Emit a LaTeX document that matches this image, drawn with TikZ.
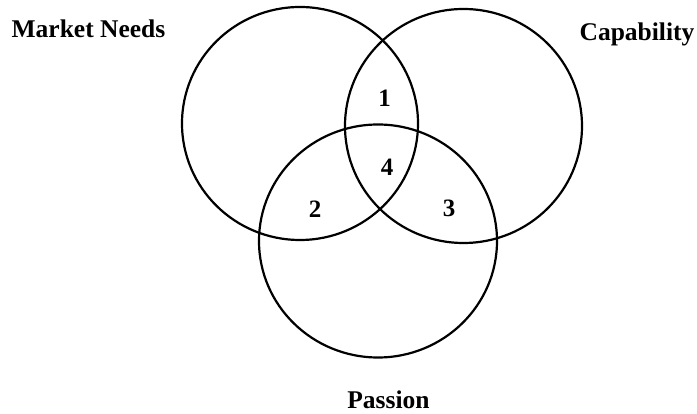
\documentclass[tikz,border=0pt]{standalone}
\usepackage{fontspec}
\setmainfont{Liberation Serif}
\begin{document}
\begin{tikzpicture}[x=1pt,y=-1pt,
  ring/.style={draw=black,line width=2.2pt},
  lbl/.style={font=\fontsize{25.5}{30}\selectfont\bfseries,anchor=base,inner sep=0pt},
  num/.style={font=\fontsize{25}{30}\selectfont\bfseries,anchor=base,inner sep=0pt}]
\useasboundingbox (0,0) rectangle (697,414);
\coordinate (cm) at (300,123.5);
\coordinate (cc) at (463.5,126);
\coordinate (cp) at (378,241);
\draw[ring] (cm) ellipse [x radius=118, y radius=116.5];
\draw[ring] (cc) ellipse [x radius=118.5, y radius=117];
\draw[ring] (cp) ellipse [x radius=119, y radius=116.5];
\node[lbl] (market) at (88.5,37.3) {Market Needs};
\node[lbl] (capab) at (637,40.7) {Capability};
\node[lbl] (passion) at (388.5,409) {Passion};
\node[num] (n1) at (384.5,106.7) {1};
\node[num] (n2) at (315,217.3) {2};
\node[num] (n3) at (449,217) {3};
\node[num] (n4) at (387,175.7) {4};
\end{tikzpicture}
\end{document}
